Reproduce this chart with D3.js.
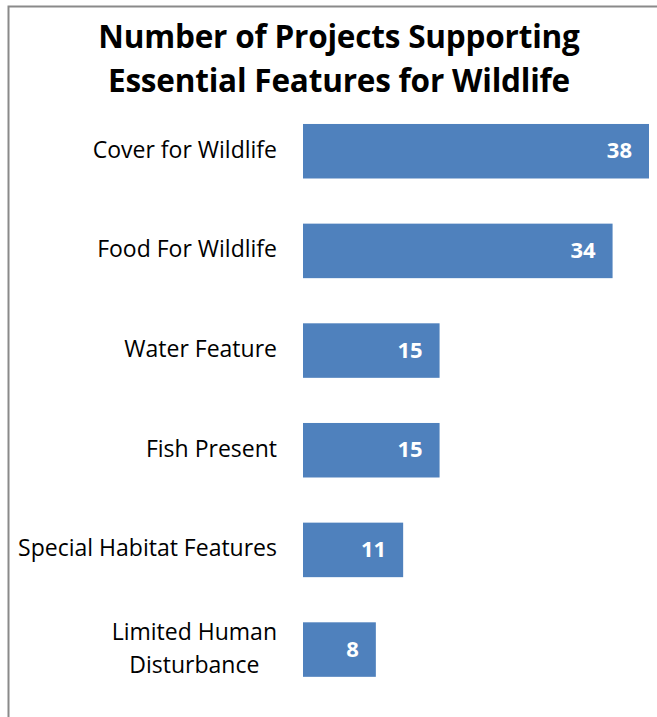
<!DOCTYPE html>
<html><head><meta charset="utf-8">
<script src="https://cdn.jsdelivr.net/npm/d3@7"></script>
<style>body{margin:0;background:#fff}svg{display:block}</style>
</head><body>
<script>
const categories = ["Cover for Wildlife","Food For Wildlife","Water Feature","Fish Present","Special Habitat Features","Limited Human Disturbance"];
const categoryLines = [["Cover for Wildlife"],["Food For Wildlife"],["Water Feature"],["Fish Present"],["Special Habitat Features"],["Limited Human","Disturbance"]];
const values = [38,34,15,15,11,8];
const titleLines = ["Number of Projects Supporting","Essential Features for Wildlife"];

const W=657,H=717;
const svg=d3.select("body").append("svg").attr("width",W).attr("height",H);
const font="'Open Sans', sans-serif";

// chart border
svg.append("path").attr("d",`M8.5,717 V6.5 H657`).attr("fill","none").attr("stroke","#8a8a8a").attr("stroke-width",2);

// title
svg.append("text").attr("x",339).attr("y",47.5).attr("text-anchor","middle")
  .attr("font-family",font).attr("font-weight","bold").attr("font-size",31.5).attr("fill","#000")
  .attr("letter-spacing",-0.2)
  .selectAll("tspan").data(titleLines).join("tspan").attr("x",339).attr("dy",(d,i)=>i?44:0).text(d=>d);

const x=d3.scaleLinear().domain([0,38]).range([303,649]);
const y=d3.scaleBand().domain(categories).range([101.4,699.4]).paddingInner(0.453).paddingOuter(0.2265);

svg.selectAll("rect.bar").data(values).join("rect").attr("class","bar")
  .attr("x",x(0)).attr("y",(d,i)=>y(categories[i])).attr("width",d=>x(d)-x(0)).attr("height",y.bandwidth())
  .attr("fill","#4f81bd");

svg.selectAll("text.val").data(values).join("text").attr("class","val")
  .attr("x",d=>x(d)-17).attr("y",(d,i)=>y(categories[i])+y.bandwidth()/2+7)
  .attr("text-anchor","end").attr("font-family",font).attr("font-weight","bold").attr("font-size",22).attr("fill","#fff")
  .text(d=>d);

const lab=svg.selectAll("text.lab").data(categories).join("text").attr("class","lab")
  .attr("text-anchor","middle").attr("font-family",font).attr("font-size",23).attr("fill","#000")
  .attr("y",(d,i)=>y(d)+y.bandwidth()/2+6.5-(categoryLines[i].length-1)*16);
lab.each(function(d,i){
  const lines=categoryLines[i];
  const t=d3.select(this);
  t.selectAll("tspan").data(lines).join("tspan").attr("dy",(l,j)=>j?32.5:0).text(l=>l);
  let maxw=0; t.selectAll("tspan").each(function(){maxw=Math.max(maxw,this.getComputedTextLength());});
  const cx=277-maxw/2;
  t.selectAll("tspan").attr("x",cx);
});
</script>
</body></html>
